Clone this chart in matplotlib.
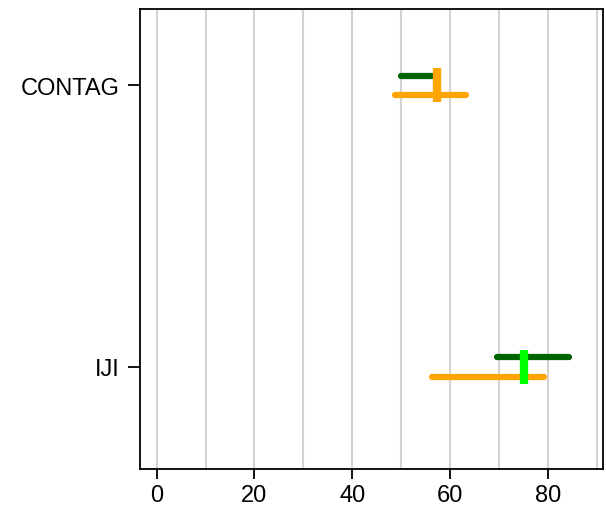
import matplotlib.pyplot as plt

# interval estimates per metric
metrics = ["IJI", "CONTAG"]
dark_lo = [69.6, 50.0]
dark_hi = [84.3, 56.3]
orange_lo = [56.4, 48.7]
orange_hi = [79.2, 63.3]
point_val = [75.2, 57.3]
point_col = ["#00FF00", "#FFA500"]

plt.rcParams['font.family'] = ['Liberation Sans', 'DejaVu Sans']

fig = plt.figure(figsize=(6.06, 5.10), dpi=100)
ax = fig.add_axes([140 / 606, 1 - 470 / 510, 463 / 606, 460 / 510])

pos = list(range(1, len(metrics) + 1))
off = 0.034
for i, y in enumerate(pos):
    ax.plot([dark_lo[i], dark_hi[i]], [y + off, y + off], color="#006400",
            lw=4.5, solid_capstyle="round", zorder=3)
    ax.plot([orange_lo[i], orange_hi[i]], [y - off, y - off], color="#FFA500",
            lw=4.5, solid_capstyle="round", zorder=3)
    ax.vlines(point_val[i], y - 0.06, y + 0.06, color=point_col[i], lw=6, zorder=4)

ax.set_xlim(-3.4, 91.3)
ax.set_ylim(0.638, 2.27)
ax.set_xticks([0, 20, 40, 60, 80])
ax.set_xticks(range(0, 100, 10), minor=True)
ax.set_yticks(pos)
ax.set_yticklabels(metrics)
ax.grid(axis="x", which="both", color="#D3D3D3", lw=1.5)
ax.set_axisbelow(True)
ax.tick_params(axis="both", labelsize=17, width=1.3, colors="black")
ax.tick_params(axis="y", length=9, pad=6)
ax.tick_params(axis="x", length=7, pad=4)
ax.tick_params(axis="x", which="minor", length=0)
for s in ax.spines.values():
    s.set_linewidth(1.3)

fig.savefig("out.png", dpi=100)
